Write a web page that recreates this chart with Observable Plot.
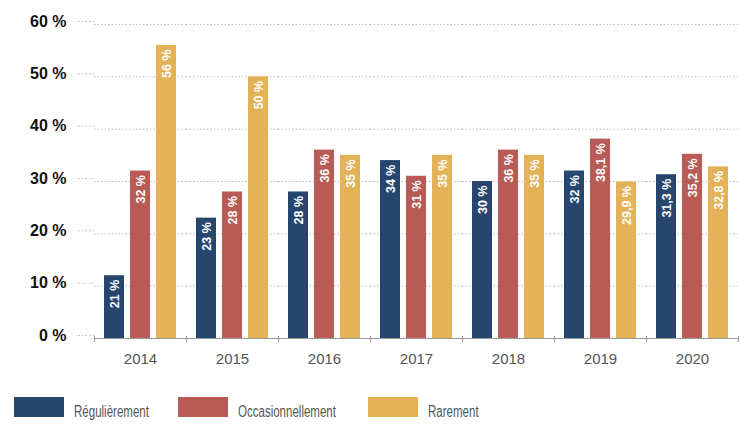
<!DOCTYPE html>
<html>
<head>
<meta charset="utf-8">
<script src="https://cdn.jsdelivr.net/npm/d3@7"></script>
<script src="https://cdn.jsdelivr.net/npm/@observablehq/plot@0.6"></script>
<style>
  body { margin: 0; background: #fff; }
  #chart svg { display: block; }
  .legend { position: relative; height: 56px;
    font-family: "Liberation Sans", Arial, sans-serif; font-size: 16px; color: #555; }
  .item { position: absolute; top: 17px; display: flex; align-items: center; white-space: nowrap; }
  .sw { width: 50px; height: 20px; margin-right: 10px; }
  .item span { display: inline-block; transform: scaleX(0.72); transform-origin: left center; position: relative; top: 5px; }
</style>
</head>
<body>
<div id="chart"></div>
<div class="legend" id="legend"></div>
<script>
const years = ["2014", "2015", "2016", "2017", "2018", "2019", "2020"];
const series = ["Régulièrement", "Occasionnellement", "Rarement"];
const colors = ["#27466e", "#b85a55", "#e3b156"];
// bar heights as drawn
const regulierement = [12, 23, 28, 34, 30, 32, 31.3];
const occasionnellement = [32, 28, 36, 31, 36, 38.1, 35.2];
const rarement = [56, 50, 35, 35, 35, 29.9, 32.8];
// labels as printed
const labelsReg = ["21 %", "23 %", "28 %", "34 %", "30 %", "32 %", "31,3 %"];
const labelsOcc = ["32 %", "28 %", "36 %", "31 %", "36 %", "38,1 %", "35,2 %"];
const labelsRar = ["56 %", "50 %", "35 %", "35 %", "35 %", "29,9 %", "32,8 %"];
const yTicks = [0, 10, 20, 30, 40, 50, 60];

const vals = [regulierement, occasionnellement, rarement];
const labs = [labelsReg, labelsOcc, labelsRar];
const data = [];
years.forEach((yr, i) => series.forEach((s, j) => data.push({year: yr, serie: s, value: vals[j][i], label: labs[j][i]})));

const font = '"Liberation Sans", Arial, sans-serif';

const plot = Plot.plot({
  width: 754,
  height: 380,
  marginTop: 24,
  marginBottom: 42,
  marginLeft: 91,
  marginRight: 13,
  style: {fontFamily: font, background: "#fff"},
  fx: {domain: years, paddingInner: 0, paddingOuter: 0, label: null, axis: null},
  x: {domain: series, paddingInner: 0.245, paddingOuter: 0.377, axis: null},
  y: {domain: [0, 60], ticks: yTicks, label: null},
  color: {domain: series, range: colors},
  marks: [
    Plot.ruleY(yTicks.filter(d => d > 0), {stroke: "#bbb", strokeDasharray: "1.5,2"}),
    Plot.axisY({ticks: yTicks, tickSize: 18, tickPadding: 10, stroke: "#bbb", strokeDasharray: "1.5,2",
      tickFormat: d => d + " %", fontSize: 16, fontWeight: "bold", fill: "#111", fontFamily: font, dy: -3, label: null}),
    Plot.axisFx({anchor: "bottom", tickSize: 0, tickPadding: 15, fontSize: 15, fill: "#555", fontFamily: font, label: null}),
    Plot.barY(data, {fx: "year", x: "serie", y: "value", fill: "serie"}),
    Plot.ruleY([0], {stroke: "#999", strokeWidth: 1.2}),
    Plot.ruleX([series[0]], {x: d => d, dx: -20, y1: -0.75, y2: 0.4, stroke: "#999"}),
    Plot.ruleX([series[2]], {x: d => d, dx: 20, y1: -0.75, y2: 0.4, stroke: "#999"}),
    Plot.text(data, {fx: "year", x: "serie", y: "value", text: "label", rotate: -90, textAnchor: "end",
      dy: 4, fill: "#fff", fontWeight: "bold", fontSize: 12.5, fontFamily: font})
  ]
});
document.getElementById("chart").appendChild(plot);

const legend = document.getElementById("legend");
const legendX = [14, 178, 368];
series.forEach((s, i) => {
  const it = document.createElement("div");
  it.className = "item";
  it.style.left = legendX[i] + "px";
  it.innerHTML = `<div class="sw" style="background:${colors[i]}"></div><span>${s}</span>`;
  legend.appendChild(it);
});
</script>
</body>
</html>
